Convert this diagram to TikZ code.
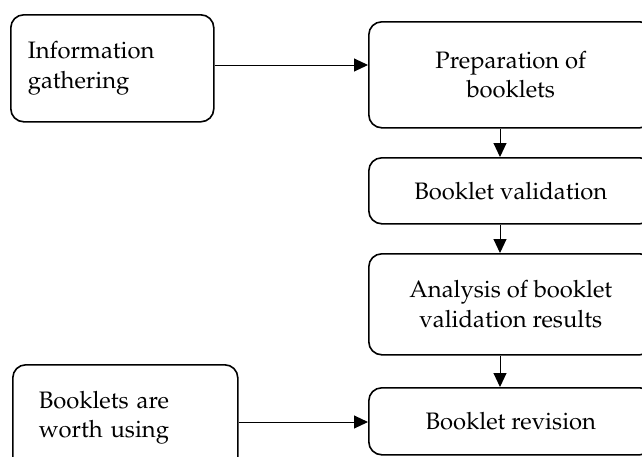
\documentclass[tikz,border=0pt]{standalone}
\usepackage[T1]{fontenc}
\usepackage{mathpazo}
\usetikzlibrary{arrows.meta}
\begin{document}
\begin{tikzpicture}[x=1pt,y=-1pt,
  box/.style={draw,line width=1.6pt,rounded corners=13pt,font=\fontsize{23.8}{29.5}\selectfont,inner sep=0pt,align=center},
  lbox/.style={box,align=left,anchor=north west},
  conn/.style={line width=1pt,-{Triangle[length=14pt,width=13pt]}}]
\useasboundingbox (0,0) rectangle (642,456);
\clip (0,0) rectangle (642,456);
\node[lbox,inner xsep=17pt,text width=169pt,minimum height=107pt] (info) at (10,14) {Information\\gathering};
\node[lbox,inner xsep=26pt,text width=173pt,minimum height=106pt] (worth) at (12,364) {Booklets are\\worth using};
\node[box,anchor=north west,minimum width=284pt,minimum height=106pt] (prep) at (368,21) {Preparation of\\booklets};
\node[box,anchor=north west,minimum width=284pt,minimum height=66pt] (valid) at (368,157) {Booklet validation};
\node[box,anchor=north west,minimum width=284pt,minimum height=101pt] (anal) at (368,253) {Analysis of booklet\\validation results};
\node[box,anchor=north west,minimum width=284pt,minimum height=67pt] (rev) at (368,387) {Booklet revision};
\coordinate (ax) at (500,0);
\coordinate (ay) at (0,65);
\coordinate (by) at (0,422);
\draw[conn] (info.east |- ay) -- (prep.west |- ay);
\draw[conn] (ax |- prep.south) -- (ax |- valid.north);
\draw[conn] (ax |- valid.south) -- (ax |- anal.north);
\draw[conn] (ax |- anal.south) -- (ax |- rev.north);
\draw[conn] (worth.east |- by) -- (rev.west |- by);
\end{tikzpicture}
\end{document}
